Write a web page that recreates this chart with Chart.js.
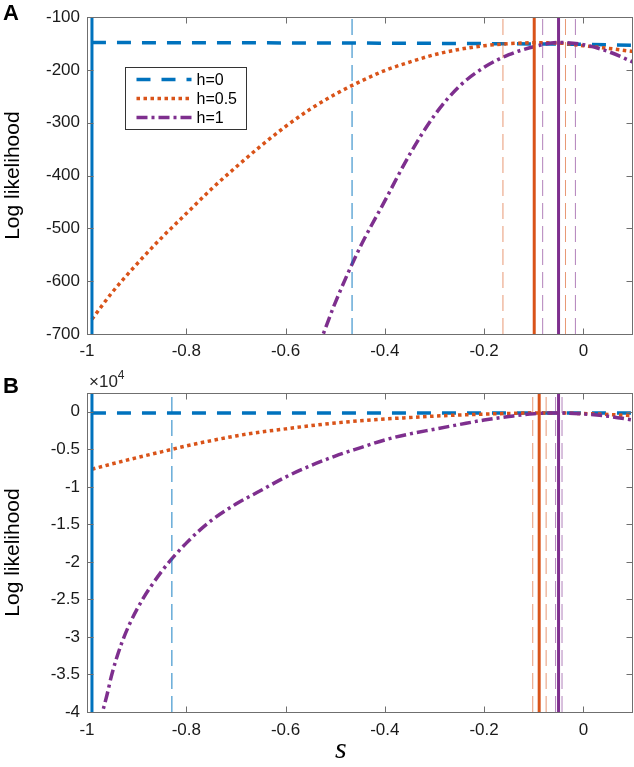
<!DOCTYPE html>
<html><head><meta charset="utf-8">
<script src="https://cdn.jsdelivr.net/npm/chart.js@4/dist/chart.umd.min.js"></script>
<style>
html,body{margin:0;padding:0;background:#fff;width:634px;height:767px;overflow:hidden;}
#wrapA{position:absolute;left:0;top:0;width:634px;height:380px;}
#wrapB{position:absolute;left:0;top:365px;width:634px;height:402px;}
.lab{position:absolute;font-family:"Liberation Sans",Arial,sans-serif;font-weight:bold;line-height:1;color:#000;}
#exp{position:absolute;left:89px;top:373px;font-family:"Liberation Sans",Arial,sans-serif;font-size:17px;line-height:1;color:#262626;}
#exp span{position:relative;top:-8px;font-size:12px;}
#stitle{position:absolute;left:335px;top:733px;font-family:"Liberation Serif","Times New Roman",serif;font-style:italic;font-size:30px;line-height:1;color:#000;}
</style></head>
<body>
<div id="wrapA"><canvas id="cA"></canvas></div>
<div id="wrapB"><canvas id="cB"></canvas></div>
<div class="lab" style="left:3px;top:2px;font-size:22px">A</div>
<div class="lab" style="left:3px;top:375px;font-size:22px">B</div>
<div id="exp">×10<span>4</span></div>
<div id="stitle">s</div>
<script>
// ---------- shared ----------
const xLimits = [-1, 0.1];
const xTicks = [-1, -0.8, -0.6, -0.4, -0.2, 0];
const seriesLabels = ['h=0', 'h=0.5', 'h=1'];

// ---------- panel A ----------
const yLimitsA = [-700, -100];
const yTicksA = [-700, -600, -500, -400, -300, -200, -100];
const sBlueA = [-0.99, -0.8, -0.6, -0.4, -0.2, 0, 0.1];
const blueA = [-148, -148.3, -148.7, -149.2, -150, -151.5, -153];
const sOrangeA = [-0.99, -0.95, -0.9, -0.85, -0.8, -0.75, -0.7, -0.65, -0.6, -0.55, -0.5, -0.45, -0.4, -0.35, -0.3, -0.25, -0.2, -0.15, -0.1, -0.05, 0, 0.05, 0.1];
const orangeA = [-672, -622, -568, -518, -472, -426, -384, -344, -307, -274, -246, -222, -201, -185, -171, -161, -154, -150, -148.5, -149, -154, -159, -165];
const sPurpleA = [-0.55, -0.524, -0.5, -0.45, -0.4, -0.35, -0.3, -0.25, -0.2, -0.15, -0.1, -0.05, 0, 0.05, 0.1];
const purpleA = [-765, -700, -641, -536, -448, -360, -286, -231, -195, -171, -156, -148, -152, -165, -185];
const mleA = [-0.99, -0.099, -0.05];            // h=0, h=0.5, h=1
const ciA = [[-0.466], [-0.162, -0.036], [-0.082, -0.016]];

// ---------- panel B ----------
const yLimitsB = [-40000, 2500];
const yTicksB = [-40000, -35000, -30000, -25000, -20000, -15000, -10000, -5000, 0];
const sBlueB = [-0.99, -0.5, 0, 0.1];
const blueB = [-150, -153, -160, -170];
const sOrangeB = [-0.99, -0.95, -0.9, -0.85, -0.8, -0.75, -0.7, -0.65, -0.6, -0.55, -0.5, -0.45, -0.4, -0.35, -0.3, -0.25, -0.2, -0.15, -0.1, -0.05, 0, 0.05, 0.1];
const orangeB = [-7650, -6950, -6120, -5340, -4550, -3850, -3220, -2700, -2280, -1860, -1500, -1200, -960, -770, -580, -430, -310, -220, -170, -170, -240, -360, -520];
const sPurpleB = [-0.975, -0.96, -0.95, -0.93, -0.9, -0.85, -0.8, -0.75, -0.7, -0.65, -0.6, -0.55, -0.5, -0.45, -0.4, -0.35, -0.3, -0.25, -0.2, -0.15, -0.1, -0.05, 0, 0.05, 0.1];
const purpleB = [-41500, -37800, -35000, -30800, -26400, -21300, -17500, -14500, -12300, -10500, -8700, -7200, -5900, -4800, -3750, -2950, -2320, -1700, -1100, -630, -250, -150, -300, -600, -1100];
const mleB = [-0.99, -0.089, -0.05];
const ciB = [[-0.829], [-0.102, -0.075], [-0.056, -0.043]];

// ---------- styles ----------
const colors = ['#0072BD', '#D95319', '#7E2F8E'];
const ciColors = ['rgba(0,114,189,0.9)', 'rgba(217,83,25,0.6)', 'rgba(126,47,142,0.6)'];
const curveDash = [[14, 11], [3.5, 3.5], [11, 4, 3, 4]];
const curveWidth = [3.5, 3.5, 3.5];
const FONT = '"Liberation Sans", Arial, Helvetica, sans-serif';
const AXIS = '#6f6f6f';

function pts(xs, ys) { return xs.map((x, i) => ({x: x, y: ys[i]})); }

function buildDatasets(curves, mle, ci, yLim) {
  const ds = [];
  curves.forEach((c, i) => {
    ds.push({label: seriesLabels[i], inLegend: true, data: pts(c[0], c[1]),
      borderColor: colors[i], borderWidth: curveWidth[i], borderDash: curveDash[i],
      borderCapStyle: 'butt', showLine: true, pointRadius: 0, cubicInterpolationMode: 'monotone',
      order: 3 - i + 1});
  });
  ci.forEach((arr, i) => arr.forEach(v => {
    ds.push({label: 'ci', data: [{x: v, y: yLim[0]}, {x: v, y: yLim[1]}],
      borderColor: ciColors[i], borderWidth: 1, borderDash: [16, 7], showLine: true, pointRadius: 0, order: 0});
  }));
  mle.forEach((v, i) => {
    ds.push({label: 'mle', data: [{x: v, y: yLim[0]}, {x: v, y: yLim[1]}],
      borderColor: colors[i], borderWidth: 3, showLine: true, pointRadius: 0, order: 0});
  });
  return ds;
}

const framePlugin = {
  id: 'frame',
  afterDraw(chart) {
    const ctx = chart.ctx, ca = chart.chartArea;
    const xs = chart.scales.x, ys = chart.scales.y;
    ctx.save();
    ctx.strokeStyle = AXIS; ctx.lineWidth = 1; ctx.setLineDash([]);
    const L = Math.round(ca.left) + 0.5, R = Math.round(ca.right) - 0.5, T = Math.round(ca.top) + 0.5, B = Math.round(ca.bottom) + 0.5;
    ctx.strokeRect(L, T, R - L, B - T);
    ctx.beginPath();
    xs.ticks.forEach(t => {
      const px = Math.round(xs.getPixelForValue(t.value)) + 0.5;
      ctx.moveTo(px, B); ctx.lineTo(px, B - 6);
      ctx.moveTo(px, T); ctx.lineTo(px, T + 6);
    });
    ys.ticks.forEach(t => {
      const py = Math.round(ys.getPixelForValue(t.value)) + 0.5;
      ctx.moveTo(L, py); ctx.lineTo(L + 6, py);
      ctx.moveTo(R, py); ctx.lineTo(R - 6, py);
    });
    ctx.stroke();
    ctx.restore();
  }
};

const legendPlugin = {
  id: 'boxLegend',
  afterDraw(chart, args, opts) {
    if (!opts || !opts.show) return;
    const ctx = chart.ctx, ca = chart.chartArea;
    const x0 = Math.round(ca.left + opts.dx) + 0.5, y0 = Math.round(ca.top + opts.dy) + 0.5;
    ctx.save();
    ctx.fillStyle = '#fff'; ctx.fillRect(x0, y0, opts.w, opts.h);
    ctx.strokeStyle = '#333'; ctx.lineWidth = 1; ctx.setLineDash([]);
    ctx.strokeRect(x0, y0, opts.w, opts.h);
    const items = chart.data.datasets.filter(d => d.inLegend);
    items.forEach((d, i) => {
      const y = y0 + 12 + i * 19;
      ctx.beginPath(); ctx.setLineDash(d.borderDash || []); ctx.lineCap = 'butt';
      ctx.strokeStyle = d.borderColor; ctx.lineWidth = d.borderWidth;
      ctx.moveTo(x0 + 11, y); ctx.lineTo(x0 + 66, y); ctx.stroke();
      ctx.setLineDash([]);
      ctx.fillStyle = '#000'; ctx.font = '16px ' + FONT; ctx.textBaseline = 'middle';
      ctx.fillText(d.label, x0 + 71, y + 1);
    });
    ctx.restore();
  }
};

function fmt(v) { return String(Math.round(v * 100) / 100); }

function makeChart(id, datasets, yLim, yTicks, yFmt, padTop, xHeight, xPad, legend) {
  return new Chart(document.getElementById(id), {
    type: 'scatter',
    data: {datasets: datasets},
    options: {
      responsive: true, maintainAspectRatio: false, animation: false,
      layout: {padding: {top: padTop, right: 1, left: 0, bottom: 0}},
      plugins: {legend: {display: false}, tooltip: {enabled: false}, boxLegend: legend},
      scales: {
        x: {type: 'linear', min: xLimits[0], max: xLimits[1],
          grid: {display: false, drawTicks: false}, border: {display: false},
          afterBuildTicks: ax => { ax.ticks = xTicks.map(v => ({value: v})); },
          afterFit: sc => { sc.height = xHeight; },
          ticks: {padding: xPad, color: '#1a1a1a', font: {family: FONT, size: 17}, maxRotation: 0, callback: v => fmt(v)},
          title: {display: false}},
        y: {type: 'linear', min: yLim[0], max: yLim[1],
          grid: {display: false, drawTicks: false}, border: {display: false},
          afterBuildTicks: ax => { ax.ticks = yTicks.map(v => ({value: v})); },
          afterFit: sc => { sc.width = 87; },
          ticks: {padding: 7, color: '#1a1a1a', font: {family: FONT, size: 17}, callback: v => yFmt(v)},
          title: {display: true, text: 'Log likelihood', color: '#000', font: {family: FONT, size: 21}, padding: {top: 1, bottom: 0}}}
      }
    },
    plugins: [framePlugin, legendPlugin]
  });
}

makeChart('cA',
  buildDatasets([[sBlueA, blueA], [sOrangeA, orangeA], [sPurpleA, purpleA]], mleA, ciA, yLimitsA),
  yLimitsA, yTicksA, v => fmt(v), 15, 46, 7,
  {show: true, dx: 38, dy: 50, w: 121, h: 62});

makeChart('cB',
  buildDatasets([[sBlueB, blueB], [sOrangeB, orangeB], [sPurpleB, purpleB]], mleB, ciB, yLimitsB),
  yLimitsB, yTicksB, v => fmt(v / 10000), 28, 55, 8,
  {show: false});
</script>
</body></html>
